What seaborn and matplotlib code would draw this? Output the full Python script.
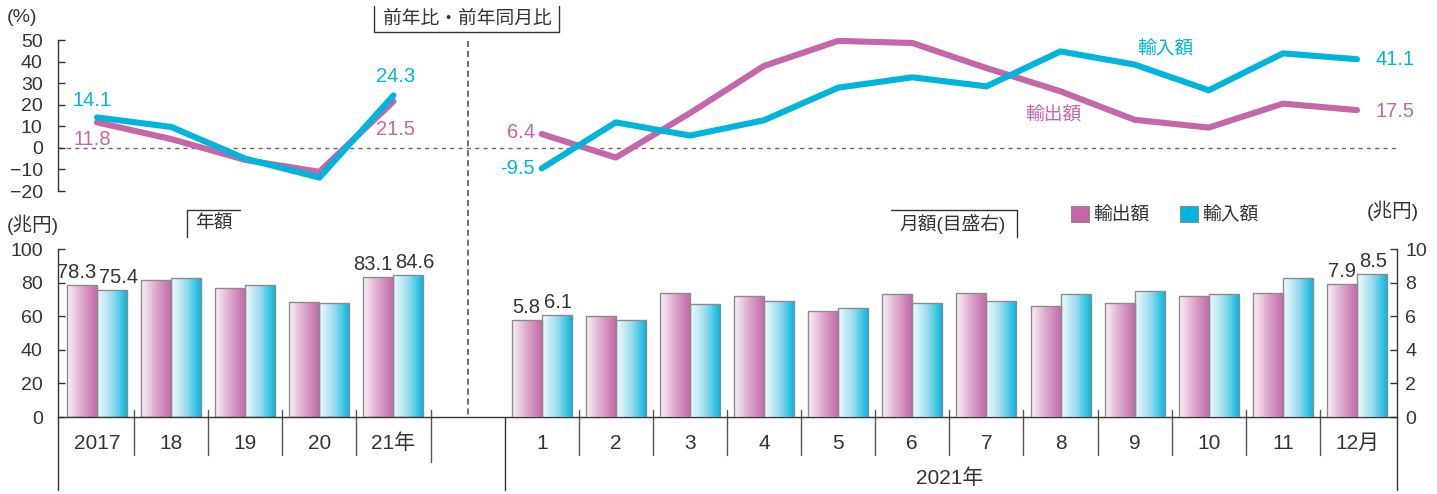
import matplotlib
matplotlib.use("Agg")
import matplotlib.pyplot as plt
import matplotlib.transforms as mtrans
from matplotlib.lines import Line2D
from matplotlib.patches import Patch
from matplotlib.colors import LinearSegmentedColormap, to_rgb
import numpy as np
import pandas as pd
import seaborn as sns

# ---- data ----
years = ['2017', '18', '19', '20', '21年']
months = ['1', '2', '3', '4', '5', '6', '7', '8', '9', '10', '11', '12月']
series = ['輸出額', '輸入額']

exp_growth_year = [11.8, 4.1, -5.6, -11.1, 21.5]
imp_growth_year = [14.1, 9.7, -5.0, -13.8, 24.3]
exp_growth_month = [6.4, -4.5, 16.1, 38.0, 49.6, 48.6, 37.0, 26.2, 13.0, 9.4, 20.5, 17.5]
imp_growth_month = [-9.5, 11.8, 5.7, 12.8, 27.9, 32.7, 28.5, 44.7, 38.6, 26.7, 43.8, 41.1]

exp_year = [78.3, 81.5, 77.0, 68.4, 83.1]
imp_year = [75.4, 82.7, 78.6, 68.0, 84.6]
exp_month = [5.8, 6.0, 7.4, 7.2, 6.3, 7.3, 7.4, 6.6, 6.8, 7.2, 7.4, 7.9]
imp_month = [6.1, 5.8, 6.7, 6.9, 6.5, 6.8, 6.9, 7.3, 7.5, 7.3, 8.3, 8.5]

PINK = '#c466a8'
CYAN = '#00b5dc'
PINK_LIGHT = '#fbf1f7'
CYAN_LIGHT = '#f0fbfe'
TXT = '#333333'

# positions: years 0..4, gap, months 6..17
year_pos = np.arange(len(years))
month_pos = np.arange(len(months)) + len(years) + 1
BAR_W = 0.81

sns.set_style('white')
plt.rcParams['font.family'] = ['Liberation Sans', 'Noto Sans CJK JP', 'DejaVu Sans']

W, H = 1437, 494
fig = plt.figure(figsize=(W / 100, H / 100), dpi=100)

def fx(px):
    return px / W

def fy(py):
    return 1 - py / H

xlim = (-39 / 74.12, 17 + 40 / 74.12)

ax1 = fig.add_axes([fx(58), fy(191), fx(1397) - fx(58), (191 - 40) / H])
ax2 = fig.add_axes([fx(58), fy(417), fx(1397) - fx(58), (417 - 249) / H])
ax3 = ax2.twinx()

# ---- top: growth lines ----
for xs, ys, c in [(year_pos, exp_growth_year, PINK), (year_pos, imp_growth_year, CYAN),
                  (month_pos, exp_growth_month, PINK), (month_pos, imp_growth_month, CYAN)]:
    sns.lineplot(x=xs, y=ys, ax=ax1, color=c, lw=4.4, solid_capstyle='round',
                 solid_joinstyle='round', clip_on=False)

ax1.axhline(0, color='#666666', lw=1, ls=(0, (3, 3)), zorder=0)
ax1.set_xlim(xlim)
ax1.set_ylim(-20, 50)
ax1.set_yticks(range(-20, 51, 10))
ax1.set_xticks([])
for s in ['top', 'right', 'bottom']:
    ax1.spines[s].set_visible(False)
ax1.spines['left'].set_color(TXT)
ax1.spines['left'].set_linewidth(1)
ax1.tick_params(axis='y', direction='in', length=5, width=1, pad=11, labelsize=14,
                colors=TXT, left=True)
ax1.set_ylabel('')

def lab(ax, x, y, s, c, dx, dy, ha='center'):
    ax.annotate(s, (x, y), xytext=(dx, dy), textcoords='offset pixels', ha=ha,
                va='center', color=c, fontsize=14.5)

lab(ax1, year_pos[0], imp_growth_year[0], f'{imp_growth_year[0]}', CYAN, -5, 17)
lab(ax1, year_pos[0], exp_growth_year[0], f'{exp_growth_year[0]}', PINK, -5, -17)
lab(ax1, year_pos[-1], imp_growth_year[-1], f'{imp_growth_year[-1]}', CYAN, 2, 19)
lab(ax1, year_pos[-1], exp_growth_year[-1], f'{exp_growth_year[-1]}', PINK, 2, -28)
lab(ax1, month_pos[0], exp_growth_month[0], f'{exp_growth_month[0]}', PINK, -7, 2, 'right')
lab(ax1, month_pos[0], imp_growth_month[0], f'{imp_growth_month[0]}', CYAN, -7, 0, 'right')
lab(ax1, month_pos[-1], imp_growth_month[-1], f'{imp_growth_month[-1]}', CYAN, 18, 0, 'left')
lab(ax1, month_pos[-1], exp_growth_month[-1], f'{exp_growth_month[-1]}', PINK, 18, -1, 'left')
ax1.text(14.41, 45.4, series[1], color=CYAN, fontsize=13.5, ha='center', va='center')
ax1.text(12.9, 14.8, series[0], color=PINK, fontsize=13.5, ha='center', va='center')

# ---- bottom: bars ----
df_year = pd.DataFrame({'pos': np.concatenate([year_pos, year_pos]),
                        'value': exp_year + imp_year,
                        'kind': [series[0]] * len(years) + [series[1]] * len(years)})
df_month = pd.DataFrame({'pos': np.concatenate([month_pos, month_pos]),
                         'value': exp_month + imp_month,
                         'kind': [series[0]] * len(months) + [series[1]] * len(months)})

sns.barplot(data=df_year, x='pos', y='value', hue='kind', hue_order=series,
            palette=[PINK, CYAN], saturation=1, native_scale=True, width=BAR_W,
            dodge=True, gap=0, edgecolor='#8c8c8c', linewidth=1, legend=False, ax=ax2)
sns.barplot(data=df_month, x='pos', y='value', hue='kind', hue_order=series,
            palette=[PINK, CYAN], saturation=1, native_scale=True, width=BAR_W,
            dodge=True, gap=0, edgecolor='#8c8c8c', linewidth=1, legend=False, ax=ax3)

def gradient(ax):
    grad = np.linspace(0, 1, 128).reshape(1, -1)
    for p in list(ax.patches):
        fc = p.get_facecolor()[:3]
        if np.linalg.norm(np.array(fc) - np.array(to_rgb(PINK))) < \
           np.linalg.norm(np.array(fc) - np.array(to_rgb(CYAN))):
            cmap = LinearSegmentedColormap.from_list('p', [PINK_LIGHT, '#dca6cb', PINK])
        else:
            cmap = LinearSegmentedColormap.from_list('c', [CYAN_LIGHT, '#9adcef', CYAN])
        x0, y0, w, h = p.get_x(), p.get_y(), p.get_width(), p.get_height()
        im = ax.imshow(grad, cmap=cmap, extent=[x0, x0 + w, y0, y0 + h],
                       aspect='auto', interpolation='bicubic', zorder=p.get_zorder() - 0.01)
        im.set_clip_path(p)
        p.set_facecolor('none')

gradient(ax2)
gradient(ax3)

for ax in (ax2, ax3):
    ax.set_xlim(xlim)
    ax.set_xlabel('')
    ax.set_ylabel('')
    ax.set_xticks([])
ax2.set_ylim(0, 100)
ax3.set_ylim(0, 10)
ax2.set_yticks(range(0, 101, 20))
ax3.set_yticks(range(0, 11, 2))

for s in ['top', 'right']:
    ax2.spines[s].set_visible(False)
for s in ['top', 'left', 'bottom']:
    ax3.spines[s].set_visible(False)
for sp in [ax2.spines['left'], ax2.spines['bottom'], ax3.spines['right']]:
    sp.set_color(TXT)
    sp.set_linewidth(1)
ax2.tick_params(axis='y', direction='in', length=5, width=1, pad=11, labelsize=14,
                colors=TXT, left=True)
ax3.tick_params(axis='y', direction='in', length=5, width=1, pad=6, labelsize=14,
                colors=TXT, right=True)

# value labels on first / last bar pairs
for ax, pos, e, i in [(ax2, year_pos, exp_year, imp_year), (ax3, month_pos, exp_month, imp_month)]:
    for k in (0, -1):
        ax.annotate(f'{e[k]}', (pos[k], e[k]), xytext=(-1, 3), textcoords='offset pixels',
                    ha='right', va='bottom', fontsize=14.5, color=TXT)
        ax.annotate(f'{i[k]}', (pos[k], i[k]), xytext=(2, 3), textcoords='offset pixels',
                    ha='left', va='bottom', fontsize=14.5, color=TXT)

# category axis: labels and separators
bt = mtrans.blended_transform_factory(ax2.transData, ax2.transAxes)
for p, t in zip(list(year_pos) + list(month_pos), years + months):
    ax2.text(p, -0.156, t, transform=bt, ha='center', va='center', fontsize=15, color=TXT)
ax2.text(month_pos.mean(), -0.365, '2021年', transform=bt, ha='center', va='center',
         fontsize=15, color=TXT)

seps = list(year_pos[:-1] + 0.5) + list(month_pos[:-1] + 0.5)
for s in seps:
    ax2.plot([s, s], [0.04, -0.228], transform=bt, color='#555555', lw=1, clip_on=False)
ax2.plot([year_pos[-1] + 0.5] * 2, [0.04, -0.27], transform=bt, color='#555555', lw=1, clip_on=False)
for s in [xlim[0], month_pos[0] - 0.5, xlim[1]]:
    ax2.plot([s, s], [0, -0.437], transform=bt, color=TXT, lw=1, clip_on=False)

# dashed divider between annual and monthly parts
vt = mtrans.blended_transform_factory(ax1.transData, fig.transFigure)
fig.add_artist(Line2D([len(years), len(years)], [fy(41), fy(417)], transform=vt,
                      color='#444444', lw=1.1, dashes=(4, 2.5)))

# panel titles with bracket frames
def frame(pts):
    fig.add_artist(Line2D([fx(p[0]) for p in pts], [fy(p[1]) for p in pts],
                          color=TXT, lw=1))

frame([(374, 6), (374, 32), (559, 32), (559, 6)])
fig.text(fx(467), fy(19.5), '前年比・前年同月比', ha='center', va='center', fontsize=13.5, color=TXT)
frame([(240, 210), (187, 210), (187, 237)])
fig.text(fx(214), fy(224), '年額', ha='center', va='center', fontsize=13.5, color=TXT)
frame([(891, 210), (1017, 210), (1017, 237)])
fig.text(fx(953), fy(224), '月額(目盛右)', ha='center', va='center', fontsize=13.5, color=TXT)

fig.text(fx(7), fy(18), '(%)', ha='left', va='center', fontsize=14, color=TXT)
fig.text(fx(7), fy(225), '(兆円)', ha='left', va='center', fontsize=14, color=TXT)
fig.text(fx(1367), fy(211), '(兆円)', ha='left', va='center', fontsize=14, color=TXT)

handles = [Patch(facecolor=PINK, edgecolor='#8c8c8c', lw=0.8),
           Patch(facecolor=CYAN, edgecolor='#8c8c8c', lw=0.8)]
fig.legend(handles, series, loc='center left', bbox_to_anchor=(fx(1071), fy(215)),
           ncol=2, frameon=False, handlelength=0.95, handleheight=0.95,
           handletextpad=0.25, columnspacing=1.6, borderpad=0, borderaxespad=0,
           fontsize=13.5, labelcolor=TXT)

fig.savefig('out.png', dpi=100)
